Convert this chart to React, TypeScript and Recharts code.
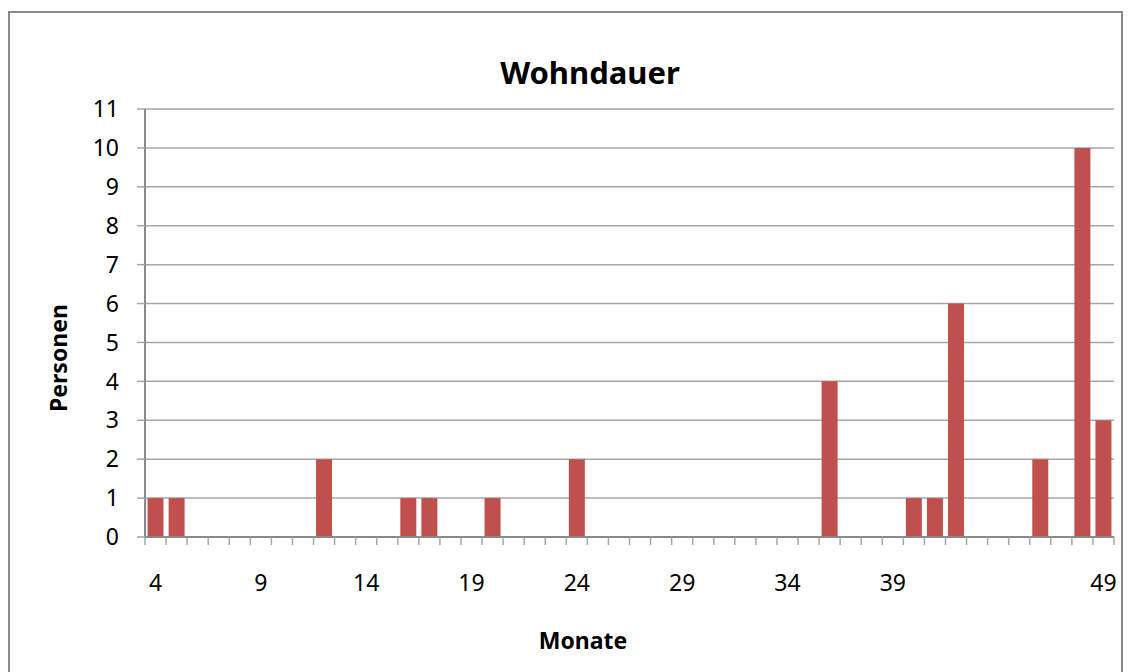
import { Bar, BarChart, CartesianGrid, XAxis, YAxis } from "recharts";

// Wohndauer in Monaten (Kategorien 4 bis 49)
const monate = [
  4, 5, 6, 7, 8, 9, 10, 11, 12, 13, 14, 15, 16, 17, 18, 19, 20, 21, 22, 23, 24,
  25, 26, 27, 28, 29, 30, 31, 32, 33, 34, 35, 36, 37, 38, 39, 40, 41, 42, 43,
  44, 45, 46, 47, 48, 49,
];

const personen = [
  1, 1, 0, 0, 0, 0, 0, 0, 2, 0, 0, 0, 1, 1, 0, 0, 1, 0, 0, 0, 2,
  0, 0, 0, 0, 0, 0, 0, 0, 0, 0, 0, 4, 0, 0, 0, 1, 1, 6, 0,
  0, 0, 2, 0, 10, 3,
];

// Beschriftete Achsenwerte (44 fehlt im Original)
const xBeschriftung = [4, 9, 14, 19, 24, 29, 34, 39, 49];
const yTicks = [0, 1, 2, 3, 4, 5, 6, 7, 8, 9, 10, 11];

const daten = monate.map((m, i) => ({ monat: m, personen: personen[i] }));

const FONT = "'Noto Sans', 'DejaVu Sans', sans-serif";
const PLOT_W = 969;
const halbeBreite = PLOT_W / monate.length / 2;

const XTick = (props: any) => {
  const { x, y, payload, index } = props;
  const letzter = index === monate.length - 1;
  return (
    <g>
      <line x1={x - halbeBreite} x2={x - halbeBreite} y1={y - 8} y2={y} stroke="#a6a6a6" strokeWidth={1.5} />
      {letzter && (
        <line x1={x + halbeBreite} x2={x + halbeBreite} y1={y - 8} y2={y} stroke="#a6a6a6" strokeWidth={1.5} />
      )}
      {xBeschriftung.includes(payload.value) && (
        <text x={x} y={y + 37} textAnchor="middle" dominantBaseline="central" fontSize={23} fill="#000" fontFamily={FONT}>
          {payload.value}
        </text>
      )}
    </g>
  );
};

export default function App() {
  return (
    <div
      style={{
        position: "relative",
        top: 3,
        width: 1111,
        height: 661,
        border: "2px solid #888",
        fontFamily: FONT,
      }}
    >
      <div style={{ position: "absolute", left: 280, top: 40, width: 600, textAlign: "center", fontSize: 31, fontWeight: "bold", lineHeight: "38px" }}>
        Wohndauer
      </div>
      <div style={{ position: "absolute", left: 473, top: 613, width: 200, textAlign: "center", fontSize: 23, fontWeight: "bold", lineHeight: "28px" }}>
        Monate
      </div>
      <div style={{ position: "absolute", left: -52, top: 331, width: 200, height: 28, textAlign: "center", fontSize: 23, fontWeight: "bold", lineHeight: "28px", transform: "rotate(-90deg)" }}>
        Personen
      </div>
      <BarChart
        width={1111}
        height={659}
        data={daten}
        margin={{ top: 96, right: 7, bottom: 75, left: 0 }}
        barCategoryGap="12%"
      >
        <CartesianGrid vertical={false} stroke="#a6a6a6" strokeWidth={1.5} />
        <XAxis
          dataKey="monat"
          interval={0}
          height={60}
          tickLine={false}
          tickSize={8}
          tickMargin={0}
          axisLine={{ stroke: "#888", strokeWidth: 2 }}
          tick={<XTick />}
        />
        <YAxis
          width={135}
          domain={[0, 11]}
          ticks={yTicks}
          interval={0}
          tickSize={8}
          tickMargin={18}
          tickLine={{ stroke: "#a6a6a6", strokeWidth: 1.5 }}
          axisLine={{ stroke: "#888", strokeWidth: 2 }}
          tick={{ fill: "#000", fontSize: 23, fontFamily: FONT }}
        />
        <YAxis
          yAxisId="rechts"
          orientation="right"
          width={0}
          domain={[0, 11]}
          tick={false}
          tickLine={false}
          axisLine={{ stroke: "#888", strokeWidth: 2 }}
        />
        <Bar dataKey="personen" fill="#C0504D" isAnimationActive={false} />
      </BarChart>
    </div>
  );
}
